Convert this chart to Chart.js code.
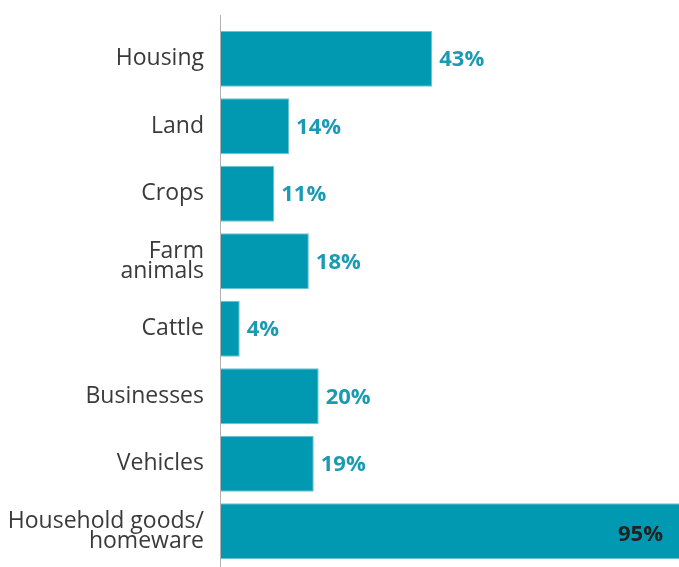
<!DOCTYPE html>
<html>
<head>
<meta charset="utf-8">
<script src="https://cdn.jsdelivr.net/npm/chart.js@4/dist/chart.umd.min.js"></script>
<style>
  html, body { margin: 0; padding: 0; background: #fff; }
  #wrap { width: 679px; height: 567px; position: relative; }
</style>
</head>
<body>
<div id="wrap"><canvas id="c"></canvas></div>
<script>
const categories = ["Housing", "Land", "Crops", ["Farm", "animals"], "Cattle", "Businesses", "Vehicles", ["Household goods/", "homeware"]];
const values = [43, 14, 11, 18, 4, 20, 19, 95];
const valueLabels = ["43%", "14%", "11%", "18%", "4%", "20%", "19%", "95%"];

const BAR = '#0099B1';
const LABEL_TEAL = '#1B9BB3';

const labelPlugin = {
  id: 'valueLabels',
  afterDatasetsDraw(chart) {
    const ctx = chart.ctx;
    const meta = chart.getDatasetMeta(0);
    const area = chart.chartArea;
    ctx.save();
    ctx.font = 'bold 22px "Open Sans", sans-serif';
    ctx.textBaseline = 'middle';
    meta.data.forEach((bar, i) => {
      const txt = valueLabels[i];
      const w = ctx.measureText(txt).width;
      if (bar.x + 8 + w > area.right) {
        ctx.fillStyle = '#222222';
        ctx.textAlign = 'right';
        ctx.fillText(txt, area.right - 16, bar.y + 3);
      } else {
        ctx.fillStyle = LABEL_TEAL;
        ctx.textAlign = 'left';
        ctx.fillText(txt, bar.x + 7, bar.y + 1);
      }
    });
    // axis line
    const x0 = chart.scales.x.getPixelForValue(0);
    ctx.strokeStyle = '#b0b0b0';
    ctx.lineWidth = 1;
    ctx.beginPath();
    ctx.moveTo(Math.round(x0) + 0.5, 15);
    ctx.lineTo(Math.round(x0) + 0.5, chart.height);
    ctx.stroke();
    ctx.restore();
  }
};

new Chart(document.getElementById('c'), {
  type: 'bar',
  data: {
    labels: categories,
    datasets: [{
      data: values,
      backgroundColor: BAR,
      borderColor: '#6cc3d2',
      borderWidth: 1,
      borderSkipped: 'left',
      barPercentage: 0.83,
      categoryPercentage: 1.0
    }]
  },
  options: {
    indexAxis: 'y',
    responsive: true,
    maintainAspectRatio: false,
    animation: false,
    layout: { padding: { top: 25, bottom: 2, right: 0, left: 0 } },
    plugins: { legend: { display: false }, tooltip: { enabled: false } },
    scales: {
      x: {
        min: 0, max: 93,
        display: false,
        grid: { display: false }
      },
      y: {
        grid: { display: false, drawTicks: false },
        border: { display: false },
        ticks: {
          color: '#3a3a3a',
          font: { family: '"Open Sans", sans-serif', size: 23, lineHeight: 0.87 },
          padding: 16,
          autoSkip: false
        },
        afterFit(scale) {
          scale.width = 220;
          scale.paddingTop = 0;
          scale.paddingBottom = 0;
        }
      }
    }
  },
  plugins: [labelPlugin]
});
</script>
</body>
</html>
